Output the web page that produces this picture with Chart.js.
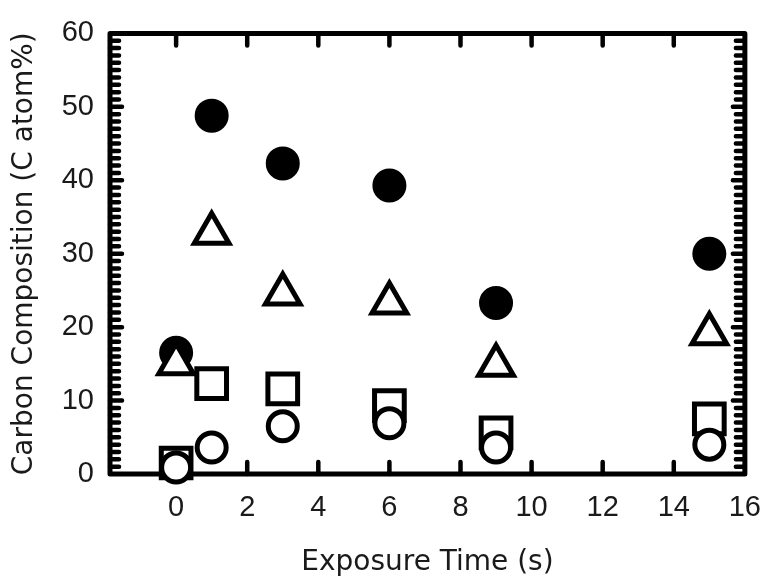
<!DOCTYPE html>
<html>
<head>
<meta charset="UTF-8" />
<title>Carbon Composition vs Exposure Time</title>
<script src="https://cdn.jsdelivr.net/npm/chart.js@4.4.0/dist/chart.umd.min.js"></script>
<style>
  body { margin: 0; background: #fff; }
</style>
</head>
<body>
<canvas id="carbonChart" width="778" height="582"></canvas>
<script>
// exposure times (s)
var times = [0, 1, 3, 6, 9, 15];

// carbon composition (C atom%) per marker type
var filledCircle = [16.5, 48.8, 42.3, 39.3, 23.3, 30.0];
var triangle     = [15.0, 32.8, 24.5, 23.3, 14.8, 19.1];
var square       = [1.5, 12.3, 11.6, 9.3, 5.6, 7.5];
var openCircle   = [0.9, 3.6, 6.5, 6.9, 3.6, 4.0];

var xTicks = [0, 2, 4, 6, 8, 10, 12, 14, 16];
var yTicks = [0, 10, 20, 30, 40, 50, 60];

var textColor = '#1a1a1a';
var tickFont = "'Liberation Sans', Arial, Helvetica, sans-serif";
var titleFont = "'DejaVu Sans', 'Liberation Sans', Arial, sans-serif";

function pts(vals) {
    return times.map(function (t, i) { return { x: t, y: vals[i] }; });
}

// box around the plot with inward tick marks
var framePlugin = {
    id: 'frame',
    beforeDatasetsDraw: function (chart) {
        var ctx = chart.ctx, a = chart.chartArea;
        var xs = chart.scales.x, ys = chart.scales.y;
        ctx.save();
        ctx.strokeStyle = '#000';
        ctx.lineWidth = 4.5;
        ctx.lineCap = 'round';
        ctx.beginPath();
        for (var v = ys.min + 1; v < ys.max; v++) {
            var y = ys.getPixelForValue(v);
            var len = (v % 10 === 0) ? 12 : 9;
            ctx.moveTo(a.left, y); ctx.lineTo(a.left + len, y);
            ctx.moveTo(a.right, y); ctx.lineTo(a.right - len, y);
        }
        xTicks.forEach(function (t) {
            if (t <= xs.min || t >= xs.max) return;
            var x = xs.getPixelForValue(t);
            ctx.moveTo(x, a.bottom); ctx.lineTo(x, a.bottom - 12);
            ctx.moveTo(x, a.top); ctx.lineTo(x, a.top + 12);
        });
        ctx.stroke();
        ctx.lineJoin = 'round';
        ctx.lineWidth = 5;
        ctx.strokeRect(a.left, a.top, a.right - a.left, a.bottom - a.top);
        ctx.restore();
    }
};

var ctx = document.getElementById('carbonChart');
var carbonChart = new Chart(ctx, {
    type: 'scatter',
    data: {
        datasets: [
            {
                label: 'open circle',
                data: pts(openCircle),
                pointStyle: 'circle',
                pointRadius: 14.5,
                pointBorderWidth: 5,
                backgroundColor: '#fff',
                borderColor: '#000',
                clip: false
            },
            {
                label: 'square',
                data: pts(square),
                pointStyle: 'rect',
                pointRadius: 21,
                pointBorderWidth: 5,
                backgroundColor: '#fff',
                borderColor: '#000',
                clip: false
            },
            {
                label: 'triangle',
                data: pts(triangle),
                pointStyle: 'triangle',
                pointRadius: 20,
                pointBorderWidth: 5,
                backgroundColor: '#fff',
                borderColor: '#000',
                clip: false
            },
            {
                label: 'filled circle',
                data: pts(filledCircle),
                pointStyle: 'circle',
                pointRadius: 14.5,
                pointBorderWidth: 5,
                backgroundColor: '#000',
                borderColor: '#000',
                clip: false
            }
        ]
    },
    options: {
        responsive: false,
        animation: false,
        layout: { padding: { top: 24, right: 24, left: 0, bottom: 0 } },
        plugins: {
            legend: { display: false },
            tooltip: { enabled: false }
        },
        scales: {
            x: {
                type: 'linear',
                min: -1.86,
                max: 16,
                grid: { display: false, drawTicks: false },
                border: { display: false },
                afterBuildTicks: function (scale) {
                    scale.ticks = xTicks.map(function (v) { return { value: v }; });
                },
                afterFit: function (scale) { scale.height = 108; },
                ticks: {
                    padding: 17,
                    color: textColor,
                    font: { family: tickFont, size: 29 },
                    maxRotation: 0
                },
                title: {
                    display: true,
                    text: 'Exposure Time (s)',
                    color: textColor,
                    font: { family: titleFont, size: 28 },
                    padding: { top: 0, bottom: 2 }
                }
            },
            y: {
                min: 0,
                max: 60,
                grid: { display: false, drawTicks: false },
                border: { display: false },
                afterBuildTicks: function (scale) {
                    scale.ticks = yTicks.map(function (v) { return { value: v }; });
                },
                afterFit: function (scale) { scale.width = 110; },
                ticks: {
                    padding: 16,
                    color: textColor,
                    font: { family: tickFont, size: 29 }
                },
                title: {
                    display: true,
                    text: 'Carbon Composition (C atom%)',
                    color: textColor,
                    font: { family: titleFont, size: 28 },
                    padding: { top: 8, bottom: 0 }
                }
            }
        }
    },
    plugins: [framePlugin]
});
</script>
</body>
</html>
